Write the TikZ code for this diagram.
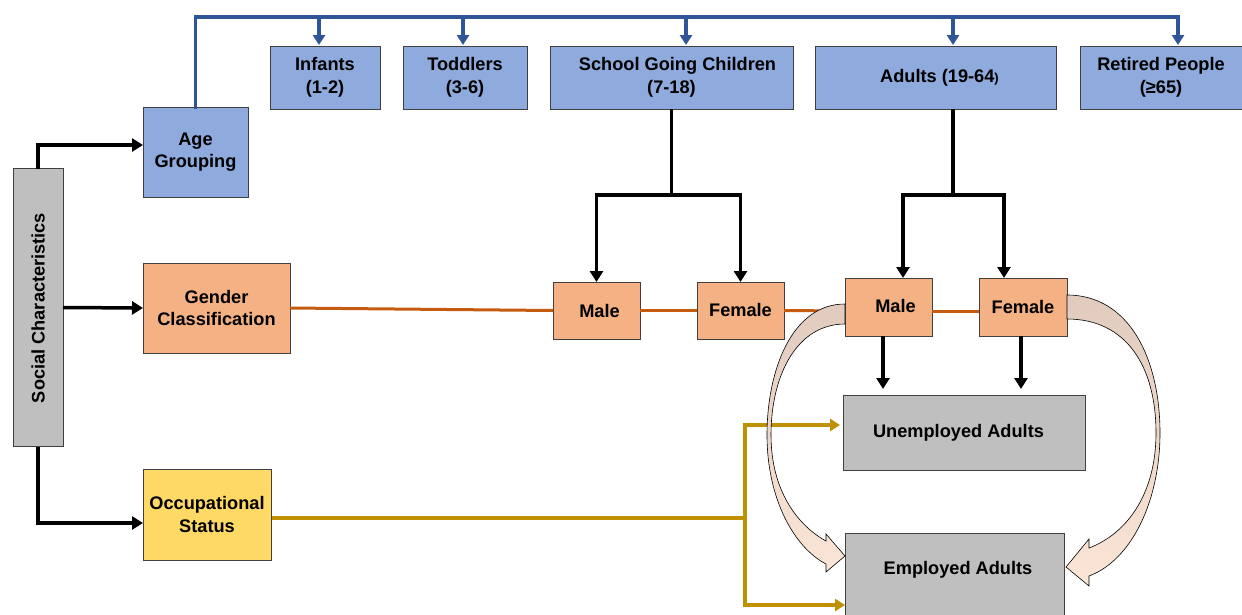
\documentclass[tikz,border=0pt]{standalone}
\usepackage{fontspec}
\setmainfont{Liberation Sans}
\usetikzlibrary{arrows.meta,calc}
\definecolor{boxblue}{HTML}{8FAADC}
\definecolor{lineblue}{HTML}{2F5597}
\definecolor{boxorange}{HTML}{F4B183}
\definecolor{lineorange}{HTML}{C55A11}
\definecolor{boxgold}{HTML}{FFD966}
\definecolor{linegold}{HTML}{BF9000}
\definecolor{boxgray}{HTML}{BFBFBF}
\definecolor{edgegray}{HTML}{404040}
\definecolor{arrtop}{HTML}{E0CBBE}
\definecolor{arrbot}{HTML}{FBE5D6}
\begin{document}
\begin{tikzpicture}[x=1pt,y=-1pt,
  box/.style={draw=edgegray, line width=0.9pt, inner sep=0pt, outer sep=0pt, align=center,
    font=\fontsize{18.2}{22.5}\selectfont\bfseries},
  txt/.style={inner sep=0pt, align=center, font=\fontsize{18.2}{22.5}\selectfont\bfseries},
  ageb/.style={box, fill=boxblue},
  genb/.style={box, fill=boxorange},
  grayb/.style={box, fill=boxgray},
  tipA/.style={-{Triangle[length=11pt,width=13pt]}},
  tipB/.style={-{Triangle[length=10pt,width=12pt]}},
  blueln/.style={draw=lineblue, line width=3.5pt},
  blkln/.style={draw=black, line width=3.5pt},
  orln/.style={draw=lineorange, line width=3pt},
  goldln/.style={draw=linegold, line width=3.5pt},
  bigarrow/.style={draw=black, line width=0.6pt, top color=arrtop, bottom color=arrbot}
]
\useasboundingbox (0,0) rectangle (1242,614);
\clip (0,0) rectangle (1242,614);

% main nodes
\node[grayb, minimum width=50, minimum height=278] (soc) at (38,307.5) {};
\node[txt, rotate=90] (soctext) at (38,308) {Social Characteristics};

\node[ageb, minimum width=105, minimum height=90] (age) at (195.5,152) {Age\\Grouping};
\node[ageb, minimum width=110, minimum height=63] (inf) at (325,77.5) {Infants\\(1-2)};
\node[ageb, minimum width=124, minimum height=63] (tod) at (465,77.5) {Toddlers\\(3-6)};
\node[ageb, minimum width=243, minimum height=63] (sch) at (671.5,77.5) {\hspace*{12pt}School Going Children\\(7-18)};
\node[ageb, minimum width=241, minimum height=63] (adu) at (935.5,77.5) {\hspace*{8pt}Adults (19-64{\fontsize{13}{14}\selectfont)}};
\node[ageb, minimum width=162, minimum height=63] (ret) at (1161,77.5) {Retired People\\(≥65)};

\node[genb, minimum width=147, minimum height=90] (gen) at (216.5,308) {Gender\\Classification};
\node[genb, minimum width=87, minimum height=57] (m1) at (596.5,310.5) {\hspace*{6pt}\raisebox{-2pt}{Male}};
\node[genb, minimum width=87, minimum height=57] (f1) at (740.5,310.5) {\raisebox{2pt}{Female}};
\node[genb, minimum width=87, minimum height=58] (m2) at (888.5,307) {\hspace*{14pt}\raisebox{3pt}{Male}};
\node[genb, minimum width=88, minimum height=58] (f2) at (1023,307) {Female};

\node[box, fill=boxgold, minimum width=128, minimum height=91] (occ) at (207,514.5) {Occupational\\Status};

\node[grayb, minimum width=242, minimum height=75] (une) at (964,432.5) {\hspace*{-11pt}Unemployed Adults};
\node[grayb, minimum width=219, minimum height=110] (emp) at (954.5,588) {};
\node[txt] (emptext) at (958,570) {Employed Adults};

% black connectors from Social Characteristics
\draw[blkln, tipA] (soc.north) |- ($(age.west)+(0,-7)$);
\draw[blkln, tipA] (soc.east) -- (gen.west);
\draw[blkln, tipA] (soc.south) |- ($(occ.west)+(0,8.5)$);

% blue age tree
\draw[blueln, line cap=rect] (age.north) |- ($(ret.north)+(17,-29)$);
\draw[blueln, tipB] ($(inf.north)+(-6,-29)$) -- ($(inf.north)+(-6,-1)$);
\draw[blueln, tipB] ($(tod.north)+(-2,-29)$) -- ($(tod.north)+(-2,-1)$);
\draw[blueln, tipB] ($(sch.north)+(14.5,-29)$) -- ($(sch.north)+(14.5,-1)$);
\draw[blueln, tipB] ($(adu.north)+(17.5,-29)$) -- ($(adu.north)+(17.5,-1)$);
\draw[blueln, tipB] ($(ret.north)+(17,-29)$) -- ($(ret.north)+(17,-1)$);

% black gender trees
\coordinate (sj) at ($(sch.south)+(0,86)$);
\draw[blkln] (sch.south) -- (sj);
\draw[blkln, tipA] (sj) -| (m1.north);
\draw[blkln, tipA] (sj) -| (f1.north);
\coordinate (at) at ($(adu.south)+(17.5,0)$);
\coordinate (aj) at ($(adu.south)+(17.5,86)$);
\draw[blkln] (at) -- (aj);
\draw[blkln, tipA] (aj) -| ($(m2.north)+(14.5,0)$);
\draw[blkln, tipA] (aj) -| ($(f2.north)+(-19,0)$);

% orange line
\draw[orln] (gen.east) -- (m1.west);
\draw[orln] (m1.east) -- (f1.west);
\draw[orln] (f1.east) -- ($(m2.west)+(0,4)$);
\draw[orln] ($(m2.east)+(0,4)$) -- ($(f2.west)+(0,4)$);

% male/female to unemployed
\coordinate (m2b) at ($(m2.south)+(-5.5,0)$);
\coordinate (f2b) at ($(f2.south)+(-2,0)$);
\draw[blkln, tipA, shorten >=6pt] (m2b) -- (m2b |- une.north);
\draw[blkln, tipA, shorten >=6pt] (f2b) -- (f2b |- une.north);

% gold occupational lines
\coordinate (gj) at (745,518);
\draw[goldln] ($(occ.east)+(1,3.5)$) -- (gj);
\draw[goldln, tipB, shorten >=3pt] (gj) |- ($(une.west)+(0,-7.5)$);
\draw[goldln, tipB] (gj) |- ($(emp.west)+(0,17)$);

% curved block arrows
\path[bigarrow] (845,304) .. controls (792,304) and (767,370) .. (767,435)
  .. controls (767,500) and (795,548) .. (826,564) -- (826,572) -- (845,556) -- (826,534) -- (826,541)
  .. controls (797,525) and (771,490) .. (771,435)
  .. controls (771,375) and (797,324) .. (845,324) -- cycle;
\path[bigarrow] (1067,295) .. controls (1130,295) and (1160,360) .. (1160,433)
  .. controls (1160,500) and (1132,560) .. (1089,576) -- (1089,586) -- (1066,567) -- (1089,539) -- (1089,548)
  .. controls (1126,534) and (1156,495) .. (1156,433)
  .. controls (1156,366) and (1126,319) .. (1067,319) -- cycle;
\end{tikzpicture}
\end{document}
